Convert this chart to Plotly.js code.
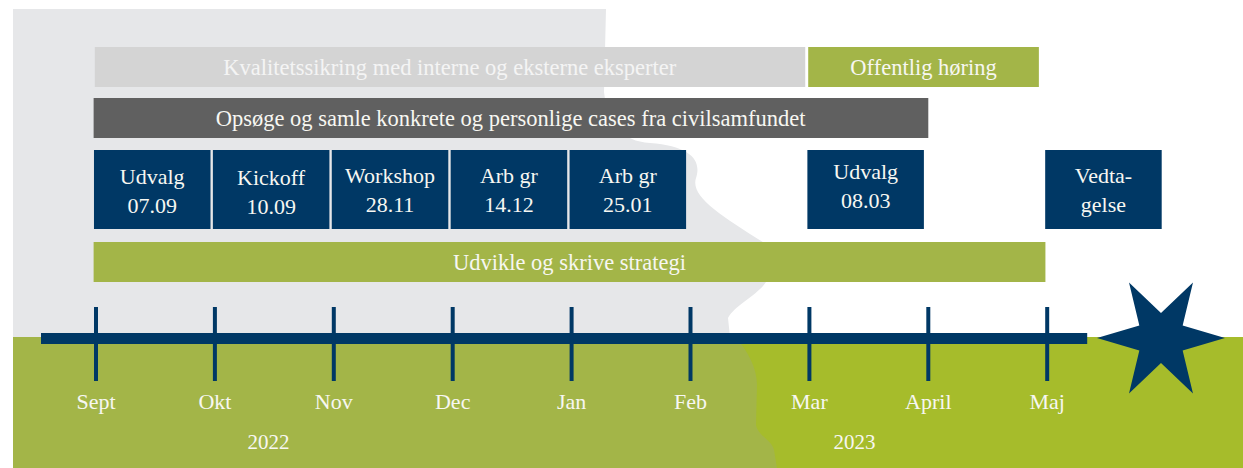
<!DOCTYPE html>
<html>
<head>
<meta charset="utf-8">
<script src="https://cdn.plot.ly/plotly-3.0.1.min.js"></script>
<style>
  html, body { margin: 0; padding: 0; background: #ffffff; }
  #chart { width: 1243px; height: 468px; }
</style>
</head>
<body>
<div id="chart"></div>
<script>
// ---------- data ----------
const months = ['Sept', 'Okt', 'Nov', 'Dec', 'Jan', 'Feb', 'Mar', 'April', 'Maj'];
const monthIndex = [0, 1, 2, 3, 4, 5, 6, 7, 8];
const years = ['2022', '2023'];
const yearPos = [1.45, 6.38];

// long phases (month index start / end)
const phaseLabels = [
  'Kvalitetssikring med interne og eksterne eksperter',
  'Offentlig høring',
  'Opsøge og samle konkrete og personlige cases fra civilsamfundet',
  'Udvikle og skrive strategi'
];
const phaseStart = [-0.01, 5.99, -0.02, -0.02];
const phaseEnd = [5.965, 7.93, 7.0, 7.985];

// milestones (month slot they occupy)
const milestoneLabels = ['Udvalg<br>07.09', 'Kickoff<br>10.09', 'Workshop<br>28.11', 'Arb gr<br>14.12',
                         'Arb gr<br>25.01', 'Udvalg<br>08.03', 'Vedta-<br>gelse'];
const milestoneSlot = [0, 1, 2, 3, 4, 6, 8];

// ---------- layout constants ----------
const W = 1243, H = 468;
const X0 = 96, DX = 118.9; // pixel position of Sept tick and month spacing
const navy = '#003865';
const olive = '#A3B548';
const brightGreen = '#A6BC2B';
const grayBg = '#E6E7E9';
const FONT = 'Liberation Serif, Times New Roman, serif';
const txtWhite = '#F7F7F2';

// phase styling per row
const phaseRowY = [67, 67, 118, 262];
const phaseH = [40, 40, 40, 40];
const phaseColor = ['#D4D4D4', olive, '#606060', olive];
const phaseTextColor = ['#F4F4F4', txtWhite, txtWhite, txtWhite];
const boxRowY = 189.5, boxH = 79;
const boxTextY = [193, 194, 192, 192, 192, 188, 192];

// paper-coordinate path helper for decorative background shapes
function px(x) { return (x / W).toFixed(5); }
function py(y) { return (1 - y / H).toFixed(5); }
function path(cmds) {
  return cmds.map(c => {
    if (c.length === 1) return c[0];
    const op = c[0];
    const nums = c.slice(1);
    const out = [];
    for (let i = 0; i < nums.length; i += 2) out.push(px(nums[i]) + ',' + py(nums[i + 1]));
    return op + out.join(' ');
  }).join(' ');
}

const grayPath = path([
  ['M', 13, 9], ['L', 606, 9], ['L', 604, 92],
  ['C', 608, 125, 622, 141, 650, 143],
  ['C', 690, 146, 702, 160, 696, 178],
  ['C', 690, 196, 720, 215, 766, 244],
  ['L', 766, 282],
  ['C', 758, 295, 735, 305, 728, 318],
  ['L', 730, 337], ['L', 13, 337], ['Z']
]);
const brightPath = path([
  ['M', 700, 337], ['L', 1243, 337], ['L', 1243, 468], ['L', 700, 468], ['Z']
]);
const olivePath = path([
  ['M', 13, 337], ['L', 736, 337],
  ['C', 748, 352, 757, 368, 757, 385],
  ['L', 756, 425],
  ['C', 758, 436, 772, 440, 774, 450],
  ['L', 777, 468], ['L', 13, 468], ['Z']
]);

// star (decorative end marker) built around a centre in pixel space
function starPath(cx, cy, rOut, rIn) {
  const pts = [];
  for (let k = 0; k < 12; k++) {
    const ang = (k * 30) * Math.PI / 180;
    const r = (k % 2 === 0) ? rOut : rIn;
    pts.push([cx + r * Math.cos(ang), cy - r * Math.sin(ang)]);
  }
  return pts.map((p, i) => (i === 0 ? 'M' : 'L') + px(p[0]) + ',' + py(p[1])).join(' ') + ' Z';
}

// ---------- traces ----------
const traces = [];

// phase bars (one trace per phase so each can carry its own colour)
for (let i = 0; i < phaseLabels.length; i++) {
  traces.push({
    type: 'bar', orientation: 'h',
    y: [phaseRowY[i]], base: [phaseStart[i]], x: [phaseEnd[i] - phaseStart[i]],
    width: [phaseH[i]],
    marker: { color: phaseColor[i], line: { width: 0 } },
    text: [phaseLabels[i]], textposition: 'inside', insidetextanchor: 'middle',
    constraintext: 'none', textangle: 0,
    textfont: { family: FONT, size: 22.5, color: phaseTextColor[i] },
    hoverinfo: 'skip', showlegend: false
  });
}

// milestone boxes
traces.push({
  type: 'bar', orientation: 'h',
  y: milestoneSlot.map(() => boxRowY),
  base: milestoneSlot.map(s => s - 0.017),
  x: milestoneSlot.map(() => 0.98),
  width: milestoneSlot.map(() => boxH),
  marker: { color: navy, line: { width: 0 } },
  hoverinfo: 'skip', showlegend: false
});
// milestone labels
traces.push({
  type: 'scatter', mode: 'text',
  x: milestoneSlot.map(s => s - 0.017 + 0.49),
  y: boxTextY,
  text: milestoneLabels, textposition: 'middle center',
  textfont: { family: FONT, size: 22, color: txtWhite },
  hoverinfo: 'skip', showlegend: false
});

// timeline axis line
traces.push({
  type: 'scatter', mode: 'lines',
  x: [(41 - X0) / DX, monthIndex[monthIndex.length - 1] + (1087 - 1047) / DX],
  y: [338.5, 338.5],
  line: { color: navy, width: 11 },
  hoverinfo: 'skip', showlegend: false
});

// month ticks
const tx = [], ty = [];
monthIndex.forEach(m => { tx.push(m, m, null); ty.push(307, 381, null); });
traces.push({
  type: 'scatter', mode: 'lines', x: tx, y: ty,
  line: { color: navy, width: 4 },
  hoverinfo: 'skip', showlegend: false
});

// month labels
traces.push({
  type: 'scatter', mode: 'text',
  x: monthIndex, y: monthIndex.map(() => 403),
  text: months, textposition: 'middle center',
  textfont: { family: FONT, size: 22, color: txtWhite },
  hoverinfo: 'skip', showlegend: false
});

// year labels
traces.push({
  type: 'scatter', mode: 'text',
  x: yearPos, y: yearPos.map(() => 444),
  text: years, textposition: 'middle center',
  textfont: { family: FONT, size: 21, color: txtWhite },
  hoverinfo: 'skip', showlegend: false
});

// ---------- layout ----------
const layout = {
  width: W, height: H,
  margin: { l: 0, r: 0, t: 0, b: 0, pad: 0 },
  paper_bgcolor: '#ffffff', plot_bgcolor: 'rgba(0,0,0,0)',
  barmode: 'overlay',
  showlegend: false,
  xaxis: { range: [-X0 / DX, (W - X0) / DX], visible: false, fixedrange: true },
  yaxis: { range: [H, 0], visible: false, fixedrange: true },
  shapes: [
    { type: 'path', xref: 'paper', yref: 'paper', path: grayPath, fillcolor: grayBg, line: { width: 0 }, layer: 'below' },
    { type: 'path', xref: 'paper', yref: 'paper', path: brightPath, fillcolor: brightGreen, line: { width: 0 }, layer: 'below' },
    { type: 'path', xref: 'paper', yref: 'paper', path: olivePath, fillcolor: olive, line: { width: 0 }, layer: 'below' },
    { type: 'path', xref: 'paper', yref: 'paper', path: starPath(1161, 338, 64, 25), fillcolor: navy, line: { width: 0 }, layer: 'above' }
  ]
};

Plotly.newPlot('chart', traces, layout, { staticPlot: true, displayModeBar: false });
</script>
</body>
</html>
